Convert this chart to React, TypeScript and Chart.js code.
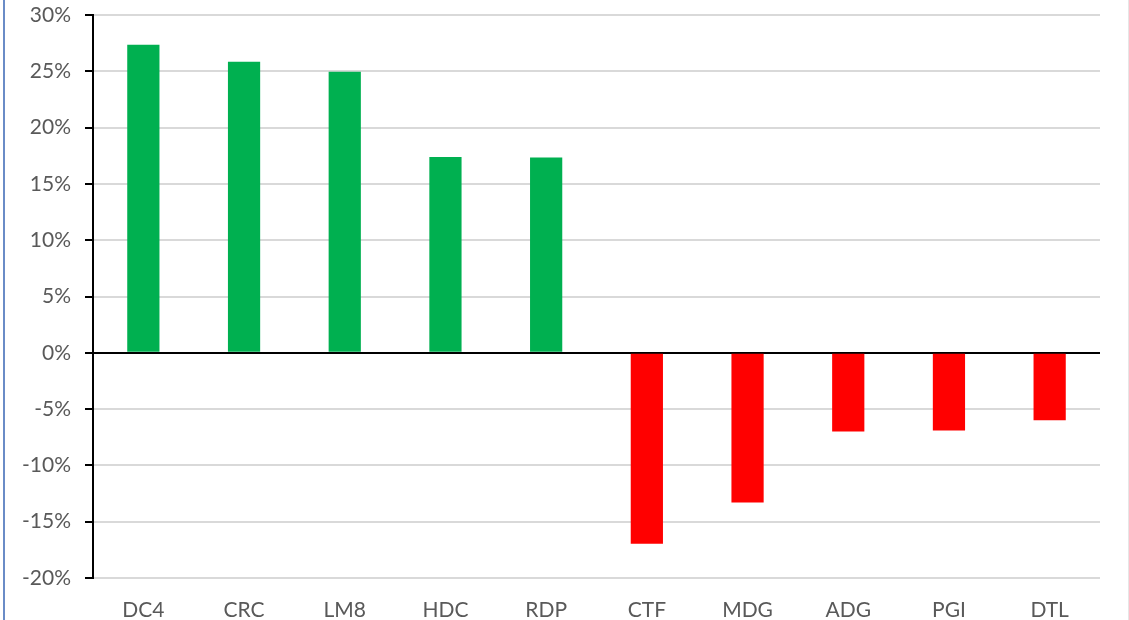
import React, { useEffect, useRef } from "react";
import { Chart, registerables } from "chart.js";

Chart.register(...registerables);

const categories = ["DC4", "CRC", "LM8", "HDC", "RDP", "CTF", "MDG", "ADG", "PGI", "DTL"];
const values = [27.35, 25.85, 24.97, 17.4, 17.35, -16.95, -13.3, -7.0, -6.9, -6.0];
const barColors = values.map((v) => (v >= 0 ? "#00B050" : "#FF0000"));

export default function App() {
  const ref = useRef<HTMLCanvasElement>(null);

  useEffect(() => {
    document.body.style.margin = "0";
    const ctx = ref.current!;
    const font = { family: "Lato, 'Open Sans', sans-serif", size: 21 };
    const chart = new Chart(ctx, {
      type: "bar",
      data: {
        labels: categories,
        datasets: [
          {
            data: values,
            backgroundColor: barColors,
            categoryPercentage: 1,
            barPercentage: 0.32,
          },
        ],
      },
      options: {
        animation: false,
        responsive: false,
        maintainAspectRatio: false,
        layout: { padding: { left: 0, right: 29, top: 15, bottom: 0 } },
        plugins: { legend: { display: false }, tooltip: { enabled: false } },
        scales: {
          x: {
            grid: { display: false, drawTicks: false },
            border: { display: false },
            ticks: { color: "#595959", font, padding: 20 },
            afterFit: (s: any) => {
              s.height = 42;
              s.paddingLeft = 0;
              s.paddingRight = 0;
            },
          },
          y: {
            min: -20,
            max: 30,
            grid: {
              color: (c: any) => (c.tick && c.tick.value === 0 ? "#000000" : "#D9D9D9"),
              lineWidth: 2,
              tickColor: "#000000",
              tickLength: 8,
            },
            border: { display: true, color: "#000000", width: 2 },
            ticks: {
              stepSize: 5,
              color: "#595959",
              font,
              padding: 14,
              callback: (v: any) => `${v}%`,
            },
            afterFit: (s: any) => {
              s.width = 93;
              s.paddingTop = 0;
              s.paddingBottom = 0;
            },
          },
        },
      },
    });
    return () => chart.destroy();
  }, []);

  return (
    <div style={{ position: "relative", width: 1129, height: 620, background: "#fff" }}>
      <canvas ref={ref} width={1129} height={620} style={{ display: "block" }} />
      <div style={{ position: "absolute", left: 3, top: 0, width: 2, height: 620, background: "#6A8CC7" }} />
      <div style={{ position: "absolute", left: 1128, top: 0, width: 1, height: 620, background: "#E6E6E6" }} />
    </div>
  );
}
